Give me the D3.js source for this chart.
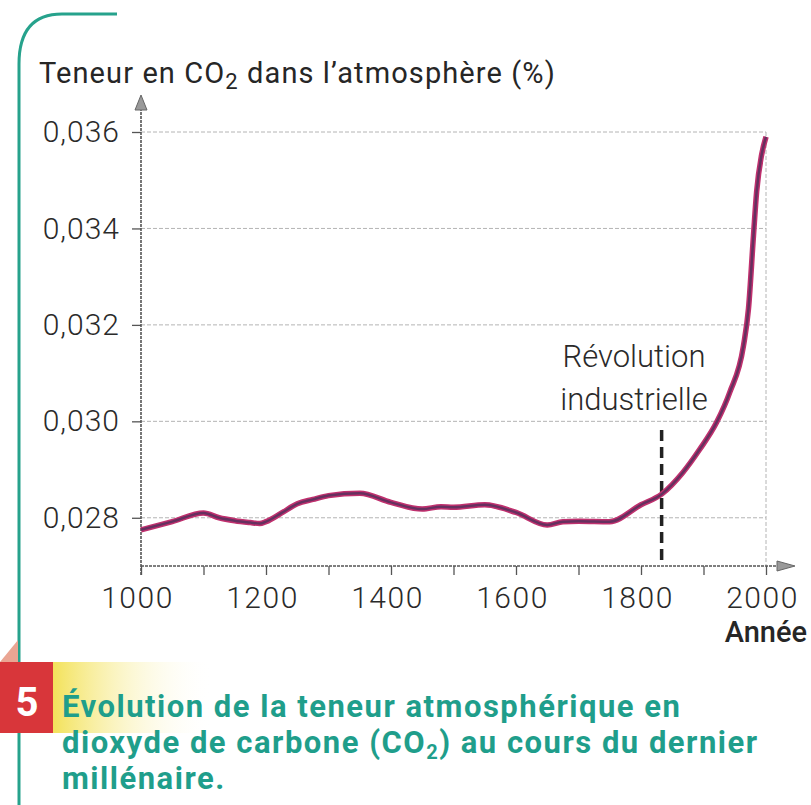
<!DOCTYPE html>
<html>
<head>
<meta charset="utf-8">
<script src="https://cdn.jsdelivr.net/npm/d3@7"></script>
<style>
  body { margin: 0; background: #fff; }
  svg { display: block; }
</style>
</head>
<body>
<div id="chart"></div>
<script>
// Data
var years = [1000, 1050, 1100, 1125, 1150, 1175, 1190, 1200, 1225, 1250, 1275, 1300, 1350,
             1400, 1450, 1480, 1500, 1550, 1600, 1650, 1675, 1700, 1750, 1800, 1833, 1867,
             1894, 1921, 1942, 1964, 1972, 1980, 1985, 1993, 2000];
var co2 = [0.02775, 0.02792, 0.02810, 0.02800, 0.02794, 0.02790, 0.02788, 0.02792, 0.02810,
           0.02829, 0.02838, 0.02846, 0.02851, 0.02832, 0.02818, 0.02823, 0.02822, 0.02827,
           0.02811, 0.02785, 0.02792, 0.02793, 0.02792, 0.02827, 0.02849, 0.02894, 0.02942,
           0.02998, 0.03060, 0.03157, 0.03234, 0.03386, 0.03476, 0.03553, 0.03590];
var xTicks = [1000, 1100, 1200, 1300, 1400, 1500, 1600, 1700, 1800, 1900, 2000];
var xLabels = [1000, 1200, 1400, 1600, 1800, 2000];
var yTicks = [0.028, 0.030, 0.032, 0.034, 0.036];
var revolutionYear = 1833;

var data = years.map(function(d, i) { return {year: d, value: co2[i]}; });

var width = 811, height = 805;
var svg = d3.select("#chart")
  .append("svg")
    .attr("width", width)
    .attr("height", height);

var x = d3.scaleLinear().domain([1000, 2000]).range([141, 766]);
var y = d3.scaleLinear().domain([0.027, 0.036]).range([566, 132]);

var fr = d3.formatLocale({decimal: ",", thousands: " ", grouping: [3], currency: ["", "€"]});
var fmt = fr.format(".3f");

// page decoration (green frame)
svg.append("path")
    .attr("d", "M19,662 V64 Q19,14 62,14 H117")
    .attr("fill", "none")
    .attr("stroke", "#26a28c")
    .attr("stroke-width", 3);
svg.append("line")
    .attr("x1", 19).attr("x2", 19).attr("y1", 733).attr("y2", 805)
    .attr("stroke", "#26a28c")
    .attr("stroke-width", 3);

// gridlines
svg.append("g")
  .selectAll("line")
  .data(yTicks)
  .enter().append("line")
    .attr("x1", x(1000)).attr("x2", x(2000))
    .attr("y1", function(d) { return y(d); })
    .attr("y2", function(d) { return y(d); })
    .attr("stroke", "#b4b4b4")
    .attr("stroke-width", 1)
    .attr("stroke-dasharray", "4,2");
svg.append("line")
    .attr("x1", x(2000)).attr("x2", x(2000))
    .attr("y1", y(0.036)).attr("y2", y(0.027))
    .attr("stroke", "#b4b4b4")
    .attr("stroke-dasharray", "4,2");

// Y axis
var yAxis = svg.append("g")
    .attr("transform", "translate(" + x(1000) + ",0)")
    .call(d3.axisLeft(y).tickValues(yTicks).tickSize(9).tickPadding(12).tickFormat(fmt));
yAxis.select(".domain").remove();
yAxis.selectAll(".tick line").attr("stroke", "#555").attr("stroke-width", 1.3);
yAxis.selectAll("text")
    .style("font-family", "Roboto")
    .style("font-weight", 300)
    .style("font-size", "30px")
    .style("letter-spacing", "1px")
    .attr("fill", "#2a2a2a");

// X axis
var xAxis = svg.append("g")
    .attr("transform", "translate(0," + y(0.027) + ")")
    .call(d3.axisBottom(x).tickValues(xTicks).tickSize(9).tickPadding(12)
      .tickFormat(function(d) { return xLabels.indexOf(d) >= 0 ? d : ""; }));
xAxis.select(".domain").remove();
xAxis.selectAll(".tick line").attr("stroke", "#555").attr("stroke-width", 1.3);
xAxis.selectAll("text")
    .attr("x", -4)
    .style("font-family", "Roboto")
    .style("font-weight", 300)
    .style("font-size", "30px")
    .style("letter-spacing", "1.5px")
    .attr("fill", "#2a2a2a");

// axis lines with arrows
svg.append("line")
    .attr("x1", x(1000)).attr("x2", 780)
    .attr("y1", y(0.027)).attr("y2", y(0.027))
    .attr("stroke", "#555")
    .attr("stroke-width", 1.6)
    .attr("stroke-dasharray", "3,1");
svg.append("line")
    .attr("x1", x(1000)).attr("x2", x(1000))
    .attr("y1", y(0.027) + 9).attr("y2", 108)
    .attr("stroke", "#555")
    .attr("stroke-width", 1.6)
    .attr("stroke-dasharray", "3,1");
svg.append("path")
    .attr("d", "M777," + (y(0.027) - 5) + " L795," + y(0.027) + " L777," + (y(0.027) + 5) + " Z")
    .attr("fill", "#999").attr("stroke", "#666");
svg.append("path")
    .attr("d", "M" + (x(1000) - 6) + ",110 L" + x(1000) + ",95 L" + (x(1000) + 6) + ",110 Z")
    .attr("fill", "#999").attr("stroke", "#666");

// industrial revolution marker
svg.append("line")
    .attr("x1", x(revolutionYear)).attr("x2", x(revolutionYear))
    .attr("y1", 430).attr("y2", y(0.027))
    .attr("stroke", "#222")
    .attr("stroke-width", 3.5)
    .attr("stroke-dasharray", "11,6");
var rev = svg.append("text")
    .attr("x", 634)
    .attr("text-anchor", "middle")
    .style("font-family", "Roboto")
    .style("font-weight", 300)
    .style("font-size", "31px")
    .attr("fill", "#2a2a2a");
rev.append("tspan").attr("x", 634).attr("y", 367).text("Révolution");
rev.append("tspan").attr("x", 634).attr("y", 410).text("industrielle");

// CO2 line
var line = d3.line()
    .curve(d3.curveMonotoneX)
    .x(function(d) { return x(d.year); })
    .y(function(d) { return y(d.value); });
svg.append("path")
    .datum(data)
    .attr("fill", "none")
    .attr("stroke", "#c0306e")
    .attr("stroke-width", 5.5)
    .attr("stroke-linejoin", "round")
    .attr("d", line);
svg.append("path")
    .datum(data)
    .attr("fill", "none")
    .attr("stroke", "#66305f")
    .attr("stroke-width", 2.5)
    .attr("stroke-linejoin", "round")
    .attr("d", line);

// Y-axis title
var yt = svg.append("text")
    .attr("x", 39)
    .attr("y", 83)
    .style("font-family", "Roboto")
    .style("font-size", "29px")
    .style("letter-spacing", "1.1px")
    .attr("fill", "#262626");
yt.append("tspan").text("Teneur en CO");
yt.append("tspan").attr("dy", 6).style("font-size", "22px").text("2");
yt.append("tspan").attr("dy", -6).text(" dans l’atmosphère (%)");

// X-axis title
svg.append("text")
    .attr("x", 807)
    .attr("y", 642)
    .attr("text-anchor", "end")
    .style("font-family", "Roboto")
    .style("font-weight", 500)
    .style("font-size", "29px")
    .attr("fill", "#262626")
    .text("Année");

// Caption
var defs = svg.append("defs");
var grad = defs.append("linearGradient").attr("id", "yel");
grad.append("stop").attr("offset", "0%").attr("stop-color", "#f3e25a");
grad.append("stop").attr("offset", "100%").attr("stop-color", "#ffffff").attr("stop-opacity", 0);
svg.append("rect")
    .attr("x", 53).attr("y", 662).attr("width", 160).attr("height", 71)
    .attr("fill", "url(#yel)");
svg.append("path")
    .attr("d", "M0,662 L18,640 L18,662 Z")
    .attr("fill", "#eaa593");
svg.append("rect")
    .attr("x", 0).attr("y", 662).attr("width", 53).attr("height", 71)
    .attr("fill", "#d8363a");
svg.append("text")
    .attr("x", 27).attr("y", 716)
    .attr("text-anchor", "middle")
    .style("font-family", "Roboto")
    .style("font-weight", 700)
    .style("font-size", "40px")
    .attr("fill", "#fff")
    .text("5");

var cap = svg.append("text")
    .style("font-family", "Roboto")
    .style("font-weight", 700)
    .style("font-size", "31px")
    .style("letter-spacing", "1.5px")
    .attr("fill", "#1f9e8b");
cap.append("tspan").attr("x", 62).attr("y", 717).text("Évolution de la teneur atmosphérique en");
cap.append("tspan").attr("x", 62).attr("y", 753).text("dioxyde de carbone (CO");
cap.append("tspan").attr("dy", 6).style("font-size", "20px").text("2");
cap.append("tspan").attr("dy", -6).text(") au cours du dernier");
cap.append("tspan").attr("x", 62).attr("y", 789).text("millénaire.");
</script>
</body>
</html>
